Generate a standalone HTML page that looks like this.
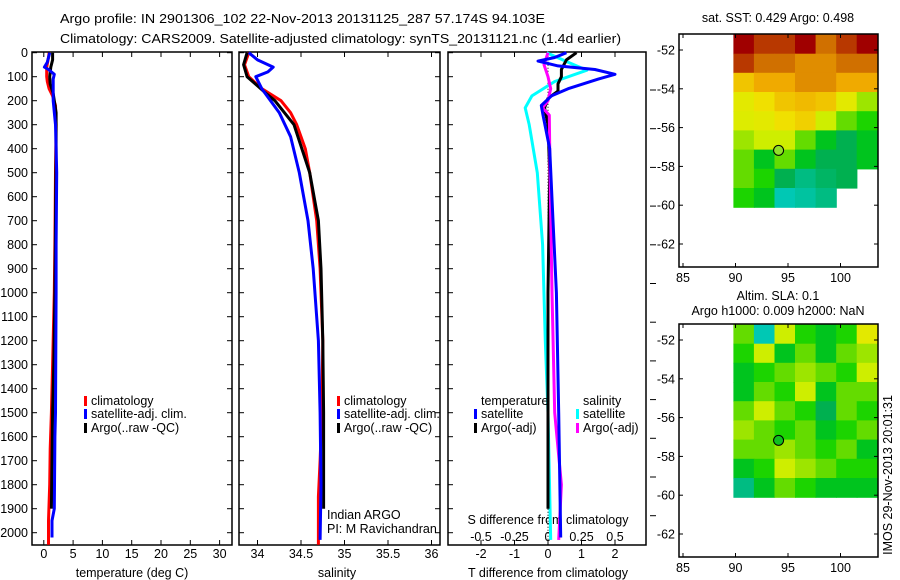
<!DOCTYPE html>
<html><head><meta charset="utf-8"><style>
body{margin:0;background:#fff;}
svg{display:block;font-family:"Liberation Sans",sans-serif;}
text{font-size:12.5px;fill:#000;}
</style></head><body>
<svg id="c" width="900" height="580" xmlns="http://www.w3.org/2000/svg">
<text x="60" y="23" font-size="14.5" textLength="485" lengthAdjust="spacingAndGlyphs">Argo profile: IN 2901306_102 22-Nov-2013 20131125_287 57.174S 94.103E</text>
<text x="60" y="43" font-size="14.5" textLength="561" lengthAdjust="spacingAndGlyphs">Climatology: CARS2009. Satellite-adjusted climatology: synTS_20131121.nc (1.4d earlier)</text>
<g id="g"></g>
</svg>
<script>
// ---- data ----
const depthTicks=[0,100,200,300,400,500,600,700,800,900,1000,1100,1200,1300,1400,1500,1600,1700,1800,1900,2000];
const tTicks=[0,5,10,15,20,25,30];
const sTicks=[34,34.5,35,35.5,36];
const sTickLabels=["34","34.5","35","35.5","36"];
const dTTicks=[-2,-1,0,1,2];
const dSTicks=[-0.5,-0.25,0,0.25,0.5];
const dSTickLabels=["-0.5","-0.25","0","0.25","0.5"];
const tClimD=[0,20,60,100,120,150,180,220,300,500,800,1000,1300,1500,1650,1800,1950,2050];
const tClim=[0.9,0.8,0.5,0.5,0.6,0.9,1.5,2.0,2.1,2.0,1.9,1.8,1.5,1.3,1.1,1.0,0.8,0.8];
const tSatD=[0,40,60,70,90,110,200,300,500,800,1000,1500,1600,1900,1950,2020];
const tSat=[1.0,0.6,0.1,0.8,1.8,1.6,1.6,2.0,2.2,2.1,2.1,2.0,1.9,1.8,1.4,1.4];
const tArgoD=[0,30,60,100,130,170,250,400,700,1000,1300,1500,1700,1900];
const tArgo=[1.5,1.5,1.2,1.0,1.1,1.6,2.1,2.1,2.0,1.9,1.7,1.5,1.4,1.3];
const sClimD=[0,50,100,150,200,250,300,400,500,700,900,1200,1500,1700,1850,2050];
const sClim=[33.9,33.85,33.9,34.05,34.27,34.38,34.45,34.55,34.6,34.68,34.72,34.75,34.74,34.72,34.7,34.7];
const sSatD=[0,30,60,80,100,150,250,350,500,700,900,1200,1500,1800,2030];
const sSat=[33.9,34.0,34.18,34.12,33.98,34.05,34.25,34.38,34.48,34.58,34.64,34.7,34.72,34.73,34.72];
const sArgoD=[0,50,100,170,200,300,500,700,900,1200,1500,1800,1900];
const sArgo=[33.88,33.84,33.88,34.1,34.2,34.42,34.6,34.7,34.73,34.75,34.76,34.76,34.76];
const dTSatD=[0,20,35,55,70,90,110,150,180,220,260,400,700,1000,1500,2020];
const dTSat=[0.55,0.2,-0.3,0.3,1.4,2.0,1.5,0.6,0.1,-0.2,-0.15,0.05,0.15,0.25,0.32,0.38];
const dTArgoD=[0,30,70,100,130,160,190,230,300,500,1000,1500,1900];
const dTArgo=[0.85,0.55,0.4,0.4,0.3,0.3,0.0,-0.1,0.0,0.05,0.0,0.0,0.0];
const dSSatD=[0,40,73,120,180,230,300,500,800,1200,1500,2030];
const dSSat=[-0.01,0.15,0.29,0.05,-0.12,-0.17,-0.14,-0.08,-0.04,-0.02,0.0,0.02];
const dSArgoD=[0,50,100,150,200,230,260,500,1000,1500,1800,2030];
const dSArgo=[0.0,-0.03,0.0,0.02,0.0,-0.04,0.01,0.015,0.03,0.05,0.1,0.08];
const sstGrid=[
[0.95,0.9,0.9,0.95,0.85,0.9,0.95],
[0.9,0.85,0.85,0.8,0.8,0.85,0.85],
[0.7,0.75,0.75,0.8,0.8,0.75,0.75],
[0.6,0.65,0.7,0.72,0.7,0.6,0.5],
[0.58,0.6,0.65,0.68,0.55,0.45,0.4],
[0.5,0.55,0.55,0.45,0.35,0.3,0.35],
[0.45,0.35,0.45,0.35,0.3,0.3,0.35],
[0.45,0.4,0.3,0.25,0.28,0.3,-1],
[0.4,0.35,0.2,0.22,0.25,-1,-1]];
const slaGrid=[
[0.45,0.2,0.55,0.4,0.35,0.4,0.6],
[0.4,0.55,0.35,0.45,0.35,0.45,0.5],
[0.35,0.4,0.45,0.5,0.45,0.4,0.55],
[0.35,0.45,0.4,0.55,0.35,0.45,0.45],
[0.45,0.55,0.45,0.4,0.3,0.45,0.4],
[0.5,0.45,0.4,0.45,0.35,0.4,0.45],
[0.45,0.45,0.5,0.45,0.4,0.45,0.35],
[0.35,0.4,0.55,0.5,0.45,0.4,0.4],
[0.25,0.35,0.45,0.4,0.35,0.35,0.35]];
const lonTicks=[85,90,95,100];
const latTicks=[-52,-54,-56,-58,-60,-62];
const argoLon=94.103, argoLat=-57.174;

// ---- helpers ----
const NS="http://www.w3.org/2000/svg";
const G=document.getElementById('g');
function el(t,a,parent){const e=document.createElementNS(NS,t);for(const k in a)e.setAttribute(k,a[k]);(parent||G).appendChild(e);return e;}
function txt(x,y,s,anchor,parent){const e=el('text',{x:x,y:y,'text-anchor':anchor||'middle'},parent);e.textContent=s;return e;}
const yD=d=>52.7+d*0.24;
const P1={x0:32,x1:232,fx:v=>43.8+v*5.86};
const P2={x0:239,x1:440,fx:v=>257.5+(v-34)*87};
const P3={x0:448,x1:646,fx:v=>548+v*33.5,fs:v=>548+v*134};
const yTop=52,yBot=545;

function panel(p,name){
  const r=el('rect',{x:p.x0,y:yTop,width:p.x1-p.x0,height:yBot-yTop,fill:'none',stroke:'#000','stroke-width':1.5});
  
  
}
function xticks(p,ticks,labels,fx,ylab){
  ticks.forEach((t,i)=>{const x=fx(t);
    el('line',{x1:x,x2:x,y1:yTop,y2:yTop+5,stroke:'#000'});
    el('line',{x1:x,x2:x,y1:yBot,y2:yBot-5,stroke:'#000'});
    if(ylab){const e=txt(x,ylab,labels[i]);
      
      }
  });
}
function line(ds,vs,fx,color,name,w,dash){
  const pts=ds.map((d,i)=>fx(vs[i]).toFixed(1)+','+yD(d).toFixed(1)).join(' ');
  const e=el('polyline',{points:pts,fill:'none',stroke:color,'stroke-width':w||3,'stroke-linejoin':'round'});
  if(dash)e.setAttribute('stroke-dasharray',dash);
  
  
}
function legend(x,y,color,label){
  el('rect',{x:x,y:y-9,width:3,height:10,fill:color});
  const e=txt(x+7,y,label,'start');
  
  
}

// ---- panel 1 ----
panel(P1,'temperature-panel');
depthTicks.forEach(d=>{const y=yD(d);
  el('line',{x1:P1.x0,x2:P1.x0+5,y1:y,y2:y,stroke:'#000'});
  el('line',{x1:P1.x1,x2:P1.x1-5,y1:y,y2:y,stroke:'#000'});
  el('line',{x1:P2.x0,x2:P2.x0+5,y1:y,y2:y,stroke:'#000'});
  el('line',{x1:P2.x1,x2:P2.x1-5,y1:y,y2:y,stroke:'#000'});
  el('line',{x1:P3.x0,x2:P3.x0+5,y1:y,y2:y,stroke:'#000'});
  const e=txt(28,y+4.5,String(d),'end');
  
  
});
xticks(P1,tTicks,tTicks.map(String),P1.fx,558);
txt(132,577,'temperature (deg C)');
line(tClimD,tClim,P1.fx,'#f00','temp-climatology');
line(tArgoD,tArgo,P1.fx,'#000','temp-argo');
line(tSatD,tSat,P1.fx,'#00f','temp-satellite');
legend(84,405,'#f00','climatology');
legend(84,418,'#00f','satellite-adj. clim.');
legend(84,432,'#000','Argo(..raw -QC)');

// ---- panel 2 ----
panel(P2,'salinity-panel');
xticks(P2,sTicks,sTickLabels,P2.fx,558);
txt(337,577,'salinity');
line(sClimD,sClim,P2.fx,'#f00','sal-climatology');
line(sArgoD,sArgo,P2.fx,'#000','sal-argo');
line(sSatD,sSat,P2.fx,'#00f','sal-satellite');
legend(337,405,'#f00','climatology');
legend(337,418,'#00f','satellite-adj. clim.');
legend(337,432,'#000','Argo(..raw -QC)');
txt(327,519,'Indian ARGO','start');
txt(327,533,'PI: M Ravichandran','start');

// ---- panel 3 ----
panel(P3,'difference-panel');
xticks(P3,dTTicks,dTTicks.map(String),P3.fx,558);
dSTicks.forEach((t,i)=>{const e=txt(P3.fs(t),541,dSTickLabels[i]);
  
  });
txt(548,524,'S difference from climatology');
txt(548,577,'T difference from climatology');
for(let y=90;y<545;y+=38.7){el('line',{x1:650,x2:656,y1:y,y2:y,stroke:'#000'});}
el('line',{x1:548,x2:548,y1:yD(0),y2:yD(2030),stroke:'#000','stroke-dasharray':'1,2'});
line(dSSatD,dSSat,P3.fs,'#0ff','s-diff-satellite');
line(dTArgoD,dTArgo,P3.fx,'#000','t-diff-argo');
line(dSArgoD,dSArgo,P3.fs,'#f0f','s-diff-argo');
line(dTSatD,dTSat,P3.fx,'#00f','t-diff-satellite');
txt(481,405,'temperature','start');
legend(474,418,'#00f','satellite');
legend(474,432,'#000','Argo(-adj)');
txt(583,405,'salinity','start');
legend(576,418,'#0ff','satellite');
legend(576,432,'#f0f','Argo(-adj)');

// ---- maps ----
const stops=[[0.2,[0,200,180]],[0.3,[0,176,80]],[0.38,[0,208,0]],[0.47,[128,224,0]],[0.56,[216,240,0]],[0.65,[240,224,0]],[0.75,[240,170,0]],[0.85,[208,112,0]],[0.95,[160,0,0]]];
function cmap(v){
  if(v<=stops[0][0])return 'rgb('+stops[0][1]+')';
  for(let i=1;i<stops.length;i++){if(v<=stops[i][0]){const a=stops[i-1],b=stops[i],t=(v-a[0])/(b[0]-a[0]);
    return 'rgb('+a[1].map((c,k)=>Math.round(c+(b[1][k]-c)*t)).join(',')+')';}}
  return 'rgb('+stops[stops.length-1][1]+')';
}
function map(M,grid,name){
  const fx=lon=>683+(lon-85)*10.5, fy=lat=>M.y52+(-52-lat)*19.4;
  const lon0=89.8,lon1=103.5,lat0=-51.2,lat1=-60.1;
  const rows=grid.length,cols=grid[0].length;
  const cw=(lon1-lon0)/cols,ch=(lat0-lat1)/rows;
  grid.forEach((row,r)=>row.forEach((v,c)=>{
    if(v<0)return;
    const x=fx(lon0+c*cw),y=fy(lat0-r*ch);
    const e=el('rect',{x:x.toFixed(1),y:y.toFixed(1),width:(cw*10.5+0.6).toFixed(1),height:(ch*19.4+0.6).toFixed(1),fill:cmap(v)});
    
    
  }));
  const b=el('rect',{x:679,y:M.top,width:199,height:M.bot-M.top,fill:'none',stroke:'#000','stroke-width':1.5});
  
  
  lonTicks.forEach(l=>{const x=fx(l);
    el('line',{x1:x,x2:x,y1:M.top,y2:M.top+4,stroke:'#000'});
    el('line',{x1:x,x2:x,y1:M.bot,y2:M.bot-4,stroke:'#000'});
    txt(x,M.bot+15,String(l));});
  latTicks.forEach(l=>{const y=fy(l);
    el('line',{x1:679,x2:683,y1:y,y2:y,stroke:'#000'});
    el('line',{x1:878,x2:874,y1:y,y2:y,stroke:'#000'});
    txt(675,y+4.5,String(l),'end');});
  const c=el('circle',{cx:fx(argoLon),cy:fy(argoLat),r:5,fill:M.dot,stroke:'#000','stroke-width':1});
  
  
}
map({y52:50,top:34,bot:267,dot:'#8fe02a'},sstGrid,'sst-map');
map({y52:340,top:324,bot:557,dot:'#10c020'},slaGrid,'sla-map');
txt(778,22,'sat. SST: 0.429 Argo: 0.498');
txt(778,300,'Altim. SLA: 0.1');
txt(778,315,'Argo h1000: 0.009 h2000: NaN');
const st=txt(0,0,'IMOS 29-Nov-2013 20:01:31');
st.setAttribute('transform','translate(892,475) rotate(-90)');


</script>
</body></html>
